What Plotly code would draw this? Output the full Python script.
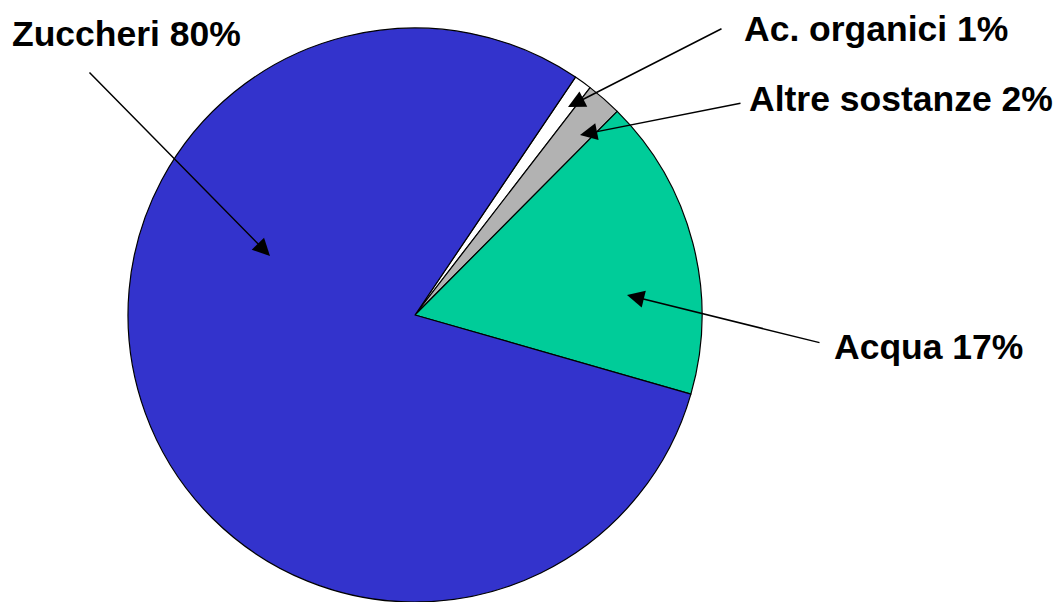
import plotly.graph_objects as go

W, H = 1061, 602

labels = ["Ac. organici", "Altre sostanze", "Acqua", "Zuccheri"]
values = [1, 2, 17, 80]
colors = ["#FFFFFF", "#B2B2B2", "#00CC99", "#3333CC"]
label_texts = ["Ac. organici 1%", "Altre sostanze 2%", "Acqua 17%", "Zuccheri 80%"]

# label centres (pixels from top-left)
label_pos = [(876, 29), (901, 99), (928, 347), (126, 34)]
# arrow tip / tail (pixels)
arrow_tip = [(568, 107), (580, 135), (627, 295), (270, 256)]
arrow_tail = [(723, 28), (742, 103), (821, 343), (88, 71)]

fig = go.Figure(go.Pie(
    labels=labels,
    values=values,
    marker=dict(colors=colors, line=dict(color="black", width=1.2)),
    sort=False,
    direction="clockwise",
    rotation=34,
    textinfo="none",
    showlegend=False,
    domain=dict(x=[128 / W, 702 / W], y=[0, 1 - 28 / H]),
))

ann = []
for t, (px, py) in zip(label_texts, label_pos):
    ann.append(dict(text="<b>%s</b>" % t, x=px / W, y=1 - py / H, xref="paper", yref="paper",
                    xanchor="center", yanchor="middle", showarrow=False,
                    font=dict(family="Liberation Sans, Arial", size=35.5, color="black")))
for (tx, ty), (sx, sy) in zip(arrow_tip, arrow_tail):
    ann.append(dict(text="", x=tx / W, y=1 - ty / H, xref="paper", yref="paper",
                    ax=sx - tx, ay=sy - ty, axref="pixel", ayref="pixel",
                    showarrow=True, arrowhead=2, arrowsize=2.3, arrowwidth=1.5,
                    arrowcolor="black", standoff=0, startstandoff=0))

fig.update_layout(
    width=W, height=H,
    margin=dict(l=0, r=0, t=0, b=0),
    paper_bgcolor="white", plot_bgcolor="white",
    annotations=ann,
)

fig.write_html("out.html", config={"displayModeBar": False},
               post_script="document.body.style.margin='0px';")
